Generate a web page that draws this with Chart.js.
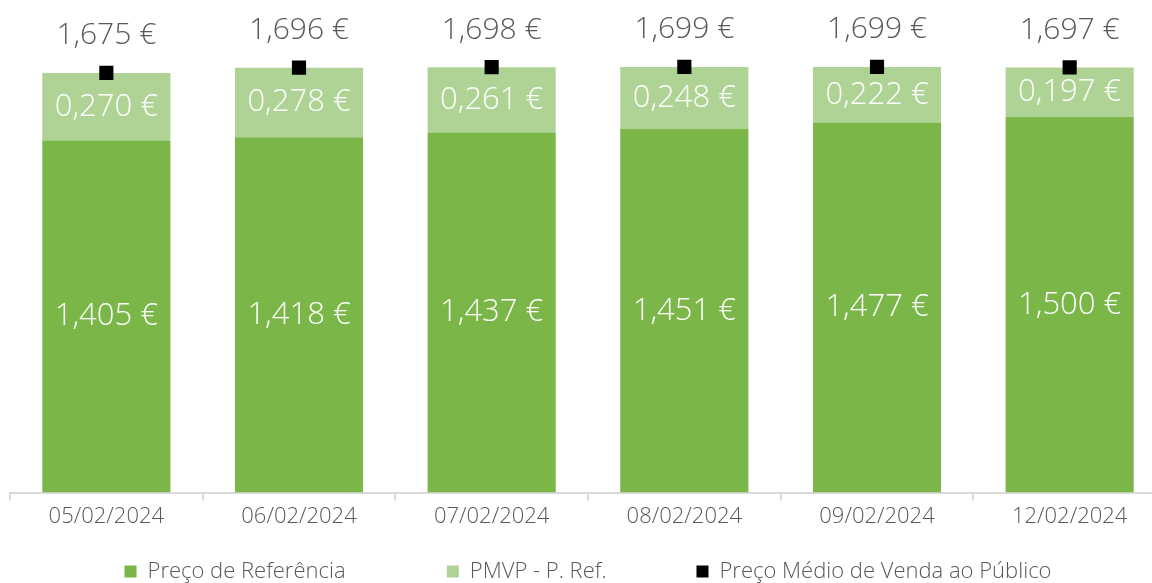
<!DOCTYPE html>
<html lang="pt">
<head>
  <meta charset="UTF-8" />
  <title>Preço Médio de Venda ao Público</title>
  <script src="https://cdn.jsdelivr.net/npm/chart.js"></script>
  <style>
    html, body {
      margin: 0;
      padding: 0;
      background: #fff;
      overflow: hidden;
    }
    .wrap {
      position: relative;
      width: 1176px;
      height: 583px;
    }
  </style>
</head>
<body>
  <div class="wrap">
    <canvas id="chart"></canvas>
  </div>

  <script>
    const dates = ["05/02/2024", "06/02/2024", "07/02/2024", "08/02/2024", "09/02/2024", "12/02/2024"];
    const precoReferencia = [1.405, 1.418, 1.437, 1.451, 1.477, 1.500];
    const pmvpMenosRef = [0.270, 0.278, 0.261, 0.248, 0.222, 0.197];
    const precoMedio = [1.675, 1.696, 1.698, 1.699, 1.699, 1.697];

    const fontFamily = "'Open Sans', sans-serif";
    const grey = "#595959";

    const euro = v => v.toFixed(3).replace(".", ",") + " €";

    // value labels drawn by hand, no datalabels plugin offline
    const valueLabels = {
      id: "valueLabels",
      afterDatasetsDraw(chart) {
        const ctx = chart.ctx;
        ctx.save();
        ctx.textAlign = "center";
        ctx.textBaseline = "middle";
        chart.data.datasets.forEach((ds, i) => {
          const meta = chart.getDatasetMeta(i);
          meta.data.forEach((el, j) => {
            if (ds.type === "line") {
              ctx.fillStyle = grey;
              ctx.font = "300 30px " + fontFamily;
              ctx.fillText(euro(ds.data[j]), el.x, el.y - 37);
            } else {
              ctx.fillStyle = "#ffffff";
              ctx.font = "300 31px " + fontFamily;
              ctx.fillText(euro(ds.data[j]), el.x, (el.y + el.base) / 2);
            }
          });
        });
        ctx.restore();
      }
    };

    // extra room after the first two legend entries (Excel spreads them out)
    const legendGap = ["\u00a0".repeat(13), "\u00a0".repeat(11), ""];

    new Chart(document.getElementById("chart"), {
      data: {
        labels: dates,
        datasets: [
          {
            type: "bar",
            label: "Preço de Referência",
            data: precoReferencia,
            backgroundColor: "#7AB648",
            stack: "s"
          },
          {
            type: "bar",
            label: "PMVP - P. Ref.",
            data: pmvpMenosRef,
            backgroundColor: "#AFD395",
            stack: "s"
          },
          {
            type: "line",
            label: "Preço Médio de Venda ao Público",
            data: precoMedio,
            showLine: false,
            pointStyle: "rect",
            pointRadius: 10,
            pointHoverRadius: 10,
            backgroundColor: "#000000",
            borderColor: "#000000",
            borderWidth: 0,
            order: -1
          }
        ]
      },
      options: {
        responsive: true,
        maintainAspectRatio: false,
        animation: false,
        datasets: {
          bar: {
            categoryPercentage: 1,
            barPercentage: 0.665
          }
        },
        layout: {
          autoPadding: false,
          padding: { top: 4, left: 10, right: 10, bottom: -9.4 }
        },
        scales: {
          x: {
            stacked: true,
            grid: {
              offset: true,
              drawOnChartArea: false,
              color: "#d9d9d9",
              tickLength: 8,
              lineWidth: 2
            },
            border: { color: "#d9d9d9", width: 2 },
            ticks: {
              color: grey,
              font: { family: fontFamily, size: 22, weight: "300", lineHeight: 1.4 },
              padding: 1
            }
          },
          y: {
            stacked: true,
            display: false,
            min: 0,
            max: 1.95
          }
        },
        plugins: {
          legend: {
            position: "bottom",
            labels: {
              color: grey,
              boxWidth: 12,
              boxHeight: 12,
              padding: 27,
              font: { family: fontFamily, size: 22, weight: "300" },
              generateLabels: chart => {
                const items = Chart.defaults.plugins.legend.labels.generateLabels(chart);
                items.sort((a, b) => a.datasetIndex - b.datasetIndex);
                items.forEach(it => { it.text = it.text + legendGap[it.datasetIndex]; });
                return items;
              }
            }
          },
          tooltip: { enabled: false }
        }
      },
      plugins: [valueLabels]
    });
  </script>
</body>
</html>
